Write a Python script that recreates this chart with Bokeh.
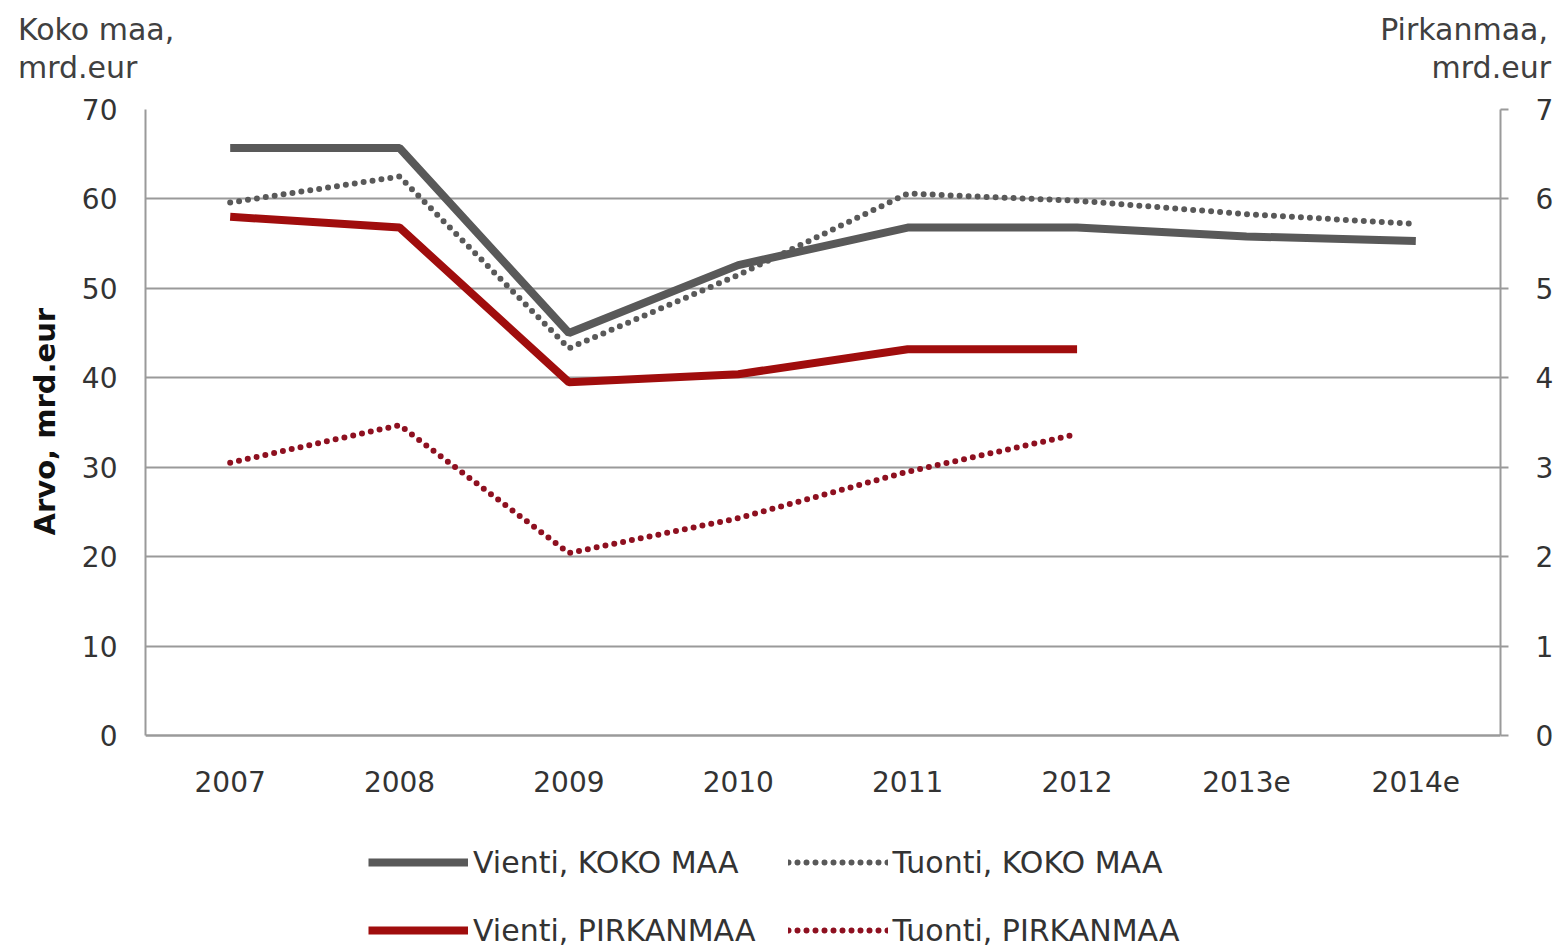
from bokeh.plotting import figure
from bokeh.layouts import column
from bokeh.models import (ColumnDataSource, FactorRange, Range1d, LinearAxis, FixedTicker,
                          Legend, LegendItem, Div, Title)
from bokeh.embed import file_html
from bokeh.resources import INLINE

# ---- data ----
years = ["2007", "2008", "2009", "2010", "2011", "2012", "2013e", "2014e"]
vienti_koko = [65.7, 65.7, 45.0, 52.6, 56.8, 56.8, 55.8, 55.3]
tuonti_koko = [59.6, 62.5, 43.3, 51.5, 60.6, 59.8, 58.3, 57.2]
years_pirk = ["2007", "2008", "2009", "2010", "2011", "2012"]
vienti_pirk = [5.80, 5.68, 3.95, 4.04, 4.32, 4.32]
tuonti_pirk = [3.05, 3.47, 2.04, 2.43, 2.95, 3.37]
left_ticks = [0, 10, 20, 30, 40, 50, 60, 70]
right_ticks = [0, 1, 2, 3, 4, 5, 6, 7]
left_unit = ["Koko maa,", "mrd.eur"]
right_unit = ["Pirkanmaa,", "mrd.eur"]
y_title = "Arvo, mrd.eur"

FONT = "DejaVu Sans"
GRAY = "#595959"
RED = "#a00d0d"
RED_DOT = "#8e1020"
GRID = "#9a9a9a"
TXT = "#333333"

W = 1556
TOP_H = 88
MAIN_H = 948 - TOP_H
BORDER_TOP = 109 - TOP_H
# the frame reaches down to the page bottom so that the legend fits inside it;
# 626 px of frame correspond to the 0..70 axis span
PX_PER_UNIT = 626 / 70
Y_LOW = 70 - (MAIN_H - BORDER_TOP) / PX_PER_UNIT

# ---- header with the unit texts ----
span = ("position:absolute;line-height:34px;white-space:nowrap;"
        "font-family:'DejaVu Sans';font-size:30px;color:#404040;")
html = (f'<div style="position:relative;width:{W}px;height:{TOP_H}px;">'
        f'<span style="{span}left:18px;top:13px;">{left_unit[0]}</span>'
        f'<span style="{span}left:18px;top:51px;">{left_unit[1]}</span>'
        f'<span style="{span}right:{W - 1548}px;top:13px;">{right_unit[0]}</span>'
        f'<span style="{span}right:{W - 1551}px;top:51px;">{right_unit[1]}</span>'
        '</div>')
header = Div(text=html, width=W, height=TOP_H, margin=0)

# ---- main chart ----
src_koko = ColumnDataSource(dict(x=years, v=vienti_koko, t=tuonti_koko))
src_pirk = ColumnDataSource(dict(x=years_pirk, v=vienti_pirk, t=tuonti_pirk))

p = figure(width=W, height=MAIN_H, x_range=FactorRange(*years),
           y_range=Range1d(Y_LOW, 70), output_backend="svg", toolbar_location=None,
           min_border_left=145, min_border_right=W - 1500, min_border_top=BORDER_TOP,
           min_border_bottom=0, background_fill_color="white",
           border_fill_color="white", outline_line_color=None, margin=0)
p.extra_y_ranges = {"pirk": Range1d(Y_LOW / 10, 7)}

p.yaxis.ticker = FixedTicker(ticks=left_ticks)
p.yaxis.bounds = (0, 70)
p.yaxis.major_tick_out = 0
p.yaxis.major_tick_in = 0
p.yaxis.minor_tick_line_color = None
p.yaxis.major_label_standoff = 28

p.xaxis.fixed_location = 0
p.xaxis.major_tick_out = 0
p.xaxis.major_tick_in = 0
p.xaxis.major_label_standoff = 35

for ax in [p.xaxis[0], p.yaxis[0]]:
    ax.axis_line_color = GRID
    ax.axis_line_width = 2
    ax.major_label_text_font = FONT
    ax.major_label_text_font_size = "28px"
    ax.major_label_text_color = TXT

raxis = LinearAxis(y_range_name="pirk", ticker=FixedTicker(ticks=right_ticks),
                   bounds=(0, 7),
                   axis_line_color=GRID, axis_line_width=2,
                   major_tick_out=8, major_tick_in=0, major_tick_line_color=GRID,
                   major_tick_line_width=2, minor_tick_line_color=None,
                   major_label_standoff=27, major_label_text_font=FONT,
                   major_label_text_font_size="28px", major_label_text_color=TXT)
p.add_layout(raxis, "right")

# vertical axis title, placed along the 0..70 part of the left side
ytitle = Title(text=y_title, align="left", offset=413, standoff=34,
               text_font=FONT, text_font_size="29px", text_font_style="bold",
               text_color="#111111")
p.add_layout(ytitle, "left")

p.xgrid.grid_line_color = None
p.ygrid.ticker = FixedTicker(ticks=left_ticks)
p.ygrid.grid_line_color = GRID
p.ygrid.grid_line_width = 2

r1 = p.line("x", "v", source=src_koko, line_color=GRAY, line_width=8)
r2 = p.line("x", "t", source=src_koko, line_color=GRAY, line_width=6,
            line_dash="0 9", line_cap="round")
r3 = p.line("x", "v", source=src_pirk, line_color=RED, line_width=8,
            y_range_name="pirk")
r4 = p.line("x", "t", source=src_pirk, line_color=RED_DOT, line_width=6,
            line_dash="0 9", line_cap="round", y_range_name="pirk")

legend = Legend(items=[
    LegendItem(label="Vienti, KOKO MAA", renderers=[r1]),
    LegendItem(label="Tuonti, KOKO MAA", renderers=[r2]),
    LegendItem(label="Vienti, PIRKANMAA", renderers=[r3]),
    LegendItem(label="Tuonti, PIRKANMAA", renderers=[r4]),
], location=(223, 0), orientation="horizontal", ncols=2,
    glyph_width=100, glyph_height=36, label_height=36, label_standoff=5,
    spacing=32, padding=0, margin=0, border_line_color=None,
    background_fill_alpha=0, label_text_font=FONT,
    label_text_font_size="30px", label_text_color=TXT)
p.add_layout(legend, "center")

layout = column(header, p, spacing=0)
open("out.html", "w").write(file_html(layout, INLINE))
